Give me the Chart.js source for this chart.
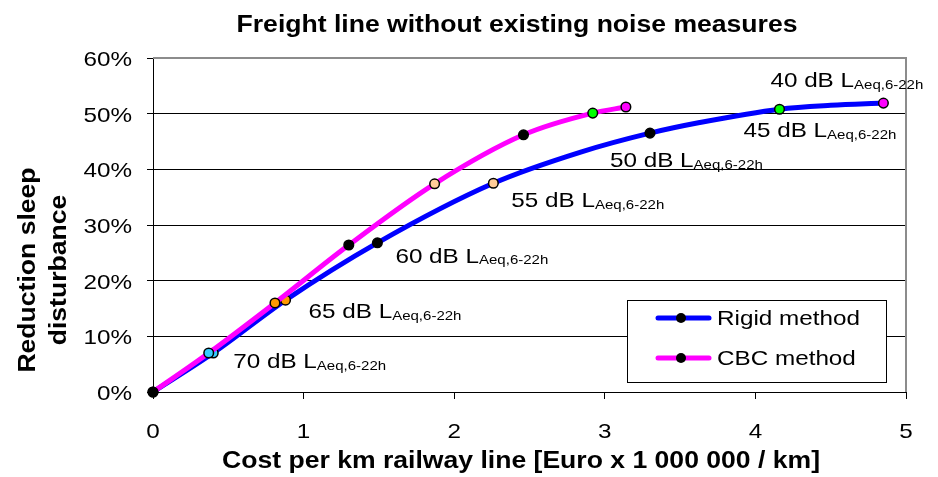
<!DOCTYPE html>
<html>
<head>
<meta charset="utf-8">
<script src="https://cdn.jsdelivr.net/npm/chart.js@4.4.0/dist/chart.umd.min.js"></script>
<style>
  body { margin: 0; background: #fff; }
  canvas { display: block; }
</style>
</head>
<body>
<canvas id="chart" width="938" height="477"></canvas>
<script>
// data (cost in million Euro/km, reduction in %)
const costRigid = [0, 0.40, 0.88, 1.49, 2.26, 2.84, 3.30, 3.63, 4.16, 4.50, 4.85];
const reductionRigid = [0, 7.0, 16.5, 26.8, 37.5, 43.1, 46.5, 48.4, 50.8, 51.5, 51.9];
// noise level (dB LAeq,6-22h) at each marker, 0 = origin, null = no marker
const levelRigid = [0, 70, 65, 60, 55, null, 50, null, 45, null, 40];

const costCbc = [0, 0.37, 0.81, 1.30, 1.87, 2.46, 2.92, 3.14];
const reductionCbc = [0, 7.0, 16.0, 26.4, 37.4, 46.2, 50.1, 51.2];
const levelCbc = [0, 70, 65, 60, 55, 50, 45, 40];

const seriesNames = ["Rigid method", "CBC method"];
const xTicks = [0, 1, 2, 3, 4, 5];
const yTicks = [0, 10, 20, 30, 40, 50, 60];

const levelColors = {
  0: "#000000", 70: "#33CCFF", 65: "#FF9900", 60: "#000000",
  55: "#FFCC99", 50: "#000000", 45: "#00FF00", 40: "#FF00FF"
};
// label offset from the rigid marker, px
const labelOffsets = {
  70: [20, 15], 65: [23, 18], 60: [18, 20], 55: [18, 24],
  50: [-40, 34], 45: [-36, 28], 40: [-113, -16]
};

const SX = 1.155; // fonts in the picture are a bit wider than Arial
const FONT = "Liberation Sans, Arial, sans-serif";

function toPoints(xs, ys) {
  return xs.map((x, i) => ({ x: x, y: ys[i] }));
}

function drawText(ctx, text, x, y, font, align) {
  ctx.save();
  ctx.font = font;
  const w = ctx.measureText(text).width * SX;
  let left = x;
  if (align === "center") left = x - w / 2;
  if (align === "right") left = x - w;
  ctx.translate(left, y);
  ctx.scale(SX, 1);
  ctx.textAlign = "left";
  ctx.textBaseline = "alphabetic";
  ctx.fillStyle = "#000";
  ctx.fillText(text, 0, 0);
  ctx.restore();
  return w;
}

const extras = {
  id: "extras",
  afterDraw(chart) {
    const ctx = chart.ctx;
    const area = chart.chartArea;
    const xs = chart.scales.x;
    const ys = chart.scales.y;

    // plot area border, top and right in grey
    ctx.save();
    ctx.strokeStyle = "#8c8c8c";
    ctx.lineWidth = 2;
    ctx.beginPath();
    ctx.moveTo(area.left, area.top);
    ctx.lineTo(area.right, area.top);
    ctx.lineTo(area.right, area.bottom);
    ctx.stroke();
    ctx.restore();

    // tick labels
    const tickFont = "21px " + FONT;
    yTicks.forEach(v => {
      drawText(ctx, v + "%", 132, ys.getPixelForValue(v) + 8, tickFont, "right");
    });
    xTicks.forEach(v => {
      drawText(ctx, String(v), xs.getPixelForValue(v), 438, tickFont, "center");
    });

    // noise level labels next to the rigid markers
    levelRigid.forEach((lv, i) => {
      if (!lv) return;
      const px = xs.getPixelForValue(costRigid[i]) + labelOffsets[lv][0];
      const py = ys.getPixelForValue(reductionRigid[i]) + labelOffsets[lv][1];
      const w = drawText(ctx, lv + " dB L", px, py, "21px " + FONT, "left");
      drawText(ctx, "Aeq,6-22h", px + w, py + 1.5, "13px " + FONT, "left");
    });

    // legend
    ctx.save();
    ctx.fillStyle = "#fff";
    ctx.strokeStyle = "#000";
    ctx.lineWidth = 1;
    ctx.fillRect(627.5, 300.5, 259, 82);
    ctx.strokeRect(627.5, 300.5, 259, 82);
    const legendColors = ["#0000FF", "#FF00FF"];
    [318, 358].forEach((ly, k) => {
      ctx.strokeStyle = legendColors[k];
      ctx.lineWidth = 5;
      ctx.lineCap = "round";
      ctx.beginPath();
      ctx.moveTo(658, ly);
      ctx.lineTo(709, ly);
      ctx.stroke();
      ctx.fillStyle = "#000";
      ctx.beginPath();
      ctx.arc(681, ly, 5, 0, Math.PI * 2);
      ctx.fill();
      drawText(ctx, seriesNames[k], 717, ly + 7, "21px " + FONT, "left");
    });
    ctx.restore();

    // titles
    const bold = "bold 23px " + FONT;
    drawText(ctx, "Freight line without existing noise measures", 517, 32, bold, "center");
    drawText(ctx, "Cost per km railway line [Euro x 1 000 000 / km]", 521, 468, bold, "center");
    [["Reduction sleep", 35], ["disturbance", 66]].forEach(([t, bx]) => {
      ctx.save();
      ctx.translate(bx, 270);
      ctx.rotate(-Math.PI / 2);
      drawText(ctx, t, 0, 0, bold, "center");
      ctx.restore();
    });
  }
};

function markerStyle(levels) {
  return {
    pointRadius: levels.map(lv => (lv === null ? 0 : 4.8)),
    pointBackgroundColor: levels.map(lv => (lv === null ? "#000" : levelColors[lv])),
    pointBorderColor: "#000",
    pointBorderWidth: 1.5,
    pointHoverRadius: levels.map(lv => (lv === null ? 0 : 4.8))
  };
}

new Chart(document.getElementById("chart"), {
  type: "line",
  data: {
    datasets: [
      Object.assign({
        label: seriesNames[1],
        data: toPoints(costCbc, reductionCbc),
        borderColor: "#FF00FF",
        borderWidth: 5,
        cubicInterpolationMode: "monotone",
        clip: false
      }, markerStyle(levelCbc)),
      Object.assign({
        label: seriesNames[0],
        data: toPoints(costRigid, reductionRigid),
        borderColor: "#0000FF",
        borderWidth: 5,
        cubicInterpolationMode: "monotone",
        clip: false
      }, markerStyle(levelRigid))
    ]
  },
  options: {
    responsive: false,
    animation: false,
    layout: { padding: { top: 58, right: 32, left: 0, bottom: 0 } },
    plugins: { legend: { display: false }, tooltip: { enabled: false } },
    scales: {
      x: {
        type: "linear",
        min: 0,
        max: 5,
        ticks: { stepSize: 1, color: "rgba(0,0,0,0)" },
        grid: { drawOnChartArea: false, drawTicks: true, tickLength: 7, color: "#000" },
        border: { color: "#000", width: 1 },
        afterFit(scale) { scale.height = 85; }
      },
      y: {
        min: 0,
        max: 60,
        ticks: { stepSize: 10, color: "rgba(0,0,0,0)" },
        grid: { color: "#000", tickLength: 6 },
        border: { color: "#000", width: 1 },
        afterFit(scale) { scale.width = 153; }
      }
    }
  },
  plugins: [extras]
});
</script>
</body>
</html>
